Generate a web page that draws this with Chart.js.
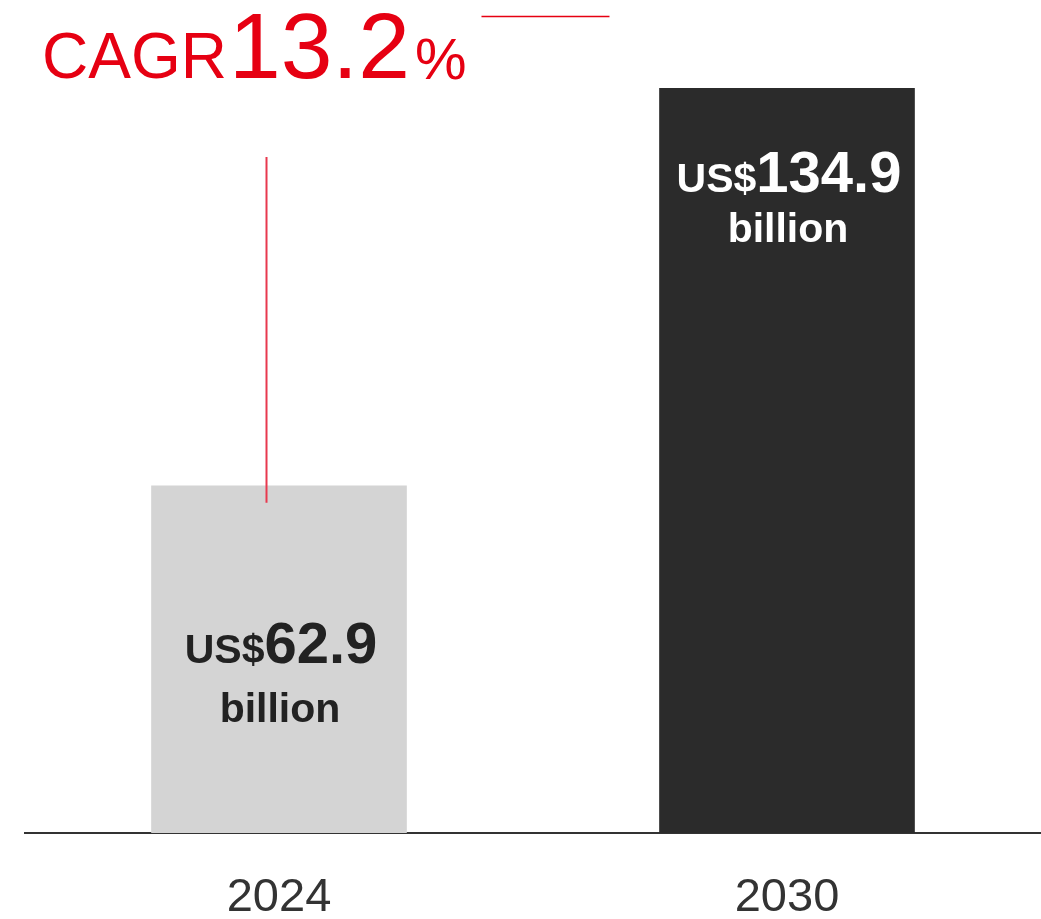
<!DOCTYPE html>
<html>
<head>
<meta charset="utf-8">
<script src="https://cdn.jsdelivr.net/npm/chart.js@4.4.1/dist/chart.umd.min.js"></script>
<style>
  html, body { margin: 0; padding: 0; background: #ffffff; }
  #wrap { width: 1041px; height: 919px; }
</style>
</head>
<body>
<div id="wrap"><canvas id="chart" width="1041" height="919"></canvas></div>
<script>
// Market size, US$ billion
const years = ['2024', '2030'];
const marketSize = [62.9, 134.9];
const barColors = ['#d4d4d4', '#2b2b2b'];
const labelColors = ['#222222', '#ffffff'];
const cagrPercent = 13.2;

const RED = '#e60012';

// Value labels inside each bar: "US$" + number on one line, "billion" below
const barLabels = {
  id: 'barLabels',
  afterDatasetsDraw(chart) {
    const ctx = chart.ctx;
    const meta = chart.getDatasetMeta(0);
    const base = chart.scales.y.getPixelForValue(0);
    meta.data.forEach((bar, i) => {
      const value = marketSize[i];
      // short bar: label sits in the lower-middle; tall bar: near its top
      const y1 = i === 0 ? bar.y + (base - bar.y) * 0.51 : bar.y + 104;
      const y2 = y1 + (i === 0 ? 59 : 50);
      ctx.save();
      ctx.fillStyle = labelColors[i];
      ctx.textBaseline = 'alphabetic';
      const fPre = 'bold 41px "Liberation Sans", Arial, sans-serif';
      const fNum = 'bold 58px "Liberation Sans", Arial, sans-serif';
      ctx.font = fPre;
      const wPre = ctx.measureText('US$').width;
      ctx.font = fNum;
      const num = value.toFixed(1);
      const wNum = ctx.measureText(num).width;
      let x = bar.x + 2 - (wPre + wNum) / 2;
      ctx.textAlign = 'left';
      ctx.font = fPre;
      ctx.fillText('US$', x, y1);
      ctx.font = fNum;
      ctx.fillText(num, x + wPre, y1);
      ctx.textAlign = 'center';
      ctx.font = 'bold 41px "Liberation Sans", Arial, sans-serif';
      ctx.fillText('billion', bar.x + 1, y2);
      ctx.restore();
    });
  }
};

// CAGR callout with its bracket lines
const cagrNote = {
  id: 'cagrNote',
  afterDraw(chart) {
    const ctx = chart.ctx;
    const area = chart.chartArea;
    const first = chart.getDatasetMeta(0).data[0];
    ctx.save();
    ctx.fillStyle = RED;
    ctx.textBaseline = 'alphabetic';
    ctx.textAlign = 'left';
    const baseY = 78;
    let x = area.left + 17;
    ctx.font = '64px "Liberation Sans", Arial, sans-serif';
    ctx.fillText('CAGR', x, baseY);
    x += ctx.measureText('CAGR').width + 2;
    ctx.font = '93px "Liberation Sans", Arial, sans-serif';
    const pct = cagrPercent.toFixed(1);
    ctx.fillText(pct, x, baseY);
    x += ctx.measureText(pct).width + 5;
    ctx.font = '58px "Liberation Sans", Arial, sans-serif';
    ctx.fillText('%', x, baseY + 1);
    const xEnd = x + ctx.measureText('%').width;

    // horizontal stroke to the upper right of the callout
    ctx.strokeStyle = RED;
    ctx.lineWidth = 1.5;
    ctx.beginPath();
    ctx.moveTo(xEnd + 15, 16.5);
    ctx.lineTo(xEnd + 143, 16.5);
    ctx.stroke();

    // vertical stroke dropping into the 2024 bar
    ctx.strokeStyle = '#e8394e';
    ctx.lineWidth = 2;
    ctx.beginPath();
    ctx.moveTo(first.x - 12.5, 157);
    ctx.lineTo(first.x - 12.5, first.y + 17);
    ctx.stroke();
    ctx.restore();
  }
};

new Chart(document.getElementById('chart'), {
  type: 'bar',
  data: {
    labels: years,
    datasets: [{
      data: marketSize,
      backgroundColor: barColors,
      borderWidth: 0,
      barThickness: 255
    }]
  },
  options: {
    responsive: false,
    animation: false,
    events: [],
    layout: { padding: { top: 5, left: 25, right: 0, bottom: 0 } },
    plugins: {
      legend: { display: false },
      tooltip: { enabled: false }
    },
    scales: {
      x: {
        grid: { display: false, drawTicks: false },
        border: { display: true, color: '#333333', width: 2 },
        ticks: {
          color: '#333333',
          padding: 37,
          font: { family: '"Liberation Sans", Arial, sans-serif', size: 47 }
        },
        afterFit(scale) { scale.height = 86; }
      },
      y: {
        display: false,
        min: 0,
        max: 150
      }
    }
  },
  plugins: [barLabels, cagrNote]
});
</script>
</body>
</html>
